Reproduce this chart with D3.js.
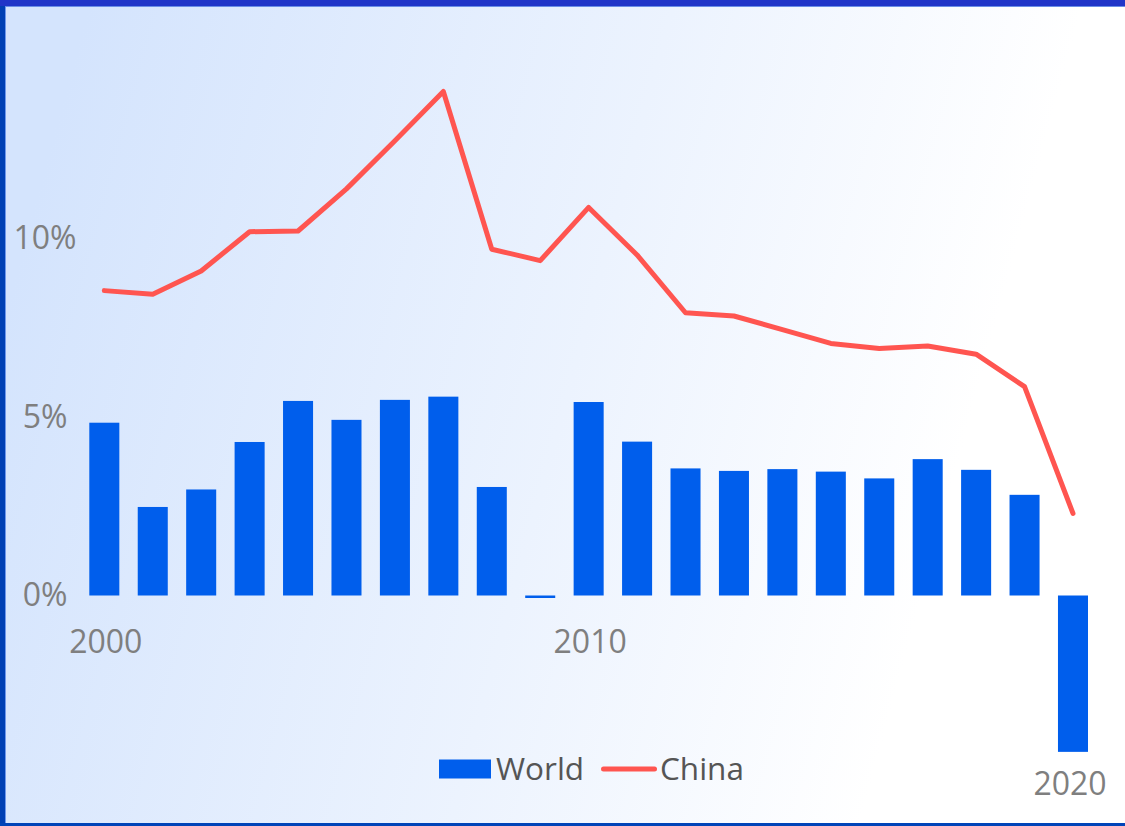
<!DOCTYPE html>
<html>
<head>
<meta charset="utf-8">
<script src="https://cdn.jsdelivr.net/npm/d3@7"></script>
<style>
  html, body { margin: 0; padding: 0; overflow: hidden; }
  svg { display: block; }
</style>
</head>
<body>
<script>
// valeurs (croissance du PIB, %)
const years = ["2000", "2001", "2002", "2003", "2004", "2005", "2006", "2007", "2008", "2009", "2010",
    "2011", "2012", "2013", "2014", "2015", "2016", "2017", "2018", "2019", "2020"];
const world = [4.84, 2.48, 2.97, 4.30, 5.45, 4.92, 5.48, 5.57, 3.04, -0.07, 5.42,
    4.31, 3.56, 3.49, 3.54, 3.47, 3.28, 3.82, 3.52, 2.82, -4.38];
const china = [8.54, 8.44, 9.09, 10.19, 10.21, 11.39, 12.74, 14.12, 9.70, 9.38, 10.87,
    9.54, 7.92, 7.83, 7.45, 7.06, 6.92, 6.99, 6.76, 5.85, 2.30];
const yTicks = [0, 5, 10];
const xTicks = ["2000", "2010", "2020"];
const seriesNames = ["World", "China"];

const W = 1125, H = 826;
const barColor = "#005eec", lineColor = "#ff5550";

const svg = d3.select("body").append("svg")
    .attr("width", W)
    .attr("height", H);

// fond en dégradé
const grad = svg.append("defs").append("linearGradient")
    .attr("id", "bg")
    .attr("x1", 0).attr("y1", 0.4)
    .attr("x2", 1).attr("y2", 0.6);
grad.append("stop").attr("offset", 0).attr("stop-color", "#d4e4fd");
grad.append("stop").attr("offset", 0.5).attr("stop-color", "#ecf3fe");
grad.append("stop").attr("offset", 0.85).attr("stop-color", "#ffffff");

svg.append("rect").attr("width", W).attr("height", H).attr("fill", "url(#bg)");

// cadre
svg.append("rect").attr("x", 0).attr("y", 0).attr("width", 5).attr("height", H).attr("fill", "#0040b4");
svg.append("rect").attr("x", 5).attr("y", 6).attr("width", 1).attr("height", H - 6).attr("fill", "#6f98ec");
svg.append("rect").attr("x", 0).attr("y", 0).attr("width", W).attr("height", 6).attr("fill", "#2035c8");
svg.append("rect").attr("x", 5).attr("y", 6).attr("width", W - 5).attr("height", 1).attr("fill", "#6a8ee6");
svg.append("rect").attr("x", 0).attr("y", H - 3).attr("width", W).attr("height", 3).attr("fill", "#0044b8");

// échelles
const x = d3.scaleBand()
    .domain(years)
    .range([80.1, 1097.2])
    .paddingInner(0.38)
    .paddingOuter(0.19);

const y = d3.scaleLinear()
    .domain([0, 10])
    .range([595.5, 238.5]);

const cx = d => x(d) + x.bandwidth() / 2;

// axe Y
const yAxis = svg.append("g")
    .attr("transform", "translate(45,0)")
    .call(d3.axisLeft(y).tickValues(yTicks).tickSize(0).tickPadding(0).tickFormat(d => d + "%"));
yAxis.select(".domain").remove();
yAxis.selectAll("text")
    .attr("text-anchor", "middle")
    .style("font-family", "'Open Sans', sans-serif")
    .style("font-size", "32px")
    .attr("fill", "#7f7f7f");

// barres
svg.selectAll("rect.bar")
    .data(years)
    .join("rect")
    .attr("class", "bar")
    .attr("x", d => x(d))
    .attr("width", x.bandwidth())
    .attr("y", (d, i) => y(Math.max(0, world[i])))
    .attr("height", (d, i) => Math.abs(y(world[i]) - y(0)))
    .attr("fill", barColor);

// ligne Chine
const line = d3.line()
    .x((d, i) => cx(years[i]))
    .y(d => y(d));

svg.append("path")
    .datum(china)
    .attr("d", line)
    .attr("fill", "none")
    .attr("stroke", lineColor)
    .attr("stroke-width", 5)
    .attr("stroke-linecap", "round")
    .attr("stroke-linejoin", "round");

// étiquettes X (sous la barre quand elle est négative, sans déborder à droite)
svg.selectAll("text.xlab")
    .data(xTicks)
    .join("text")
    .attr("class", "xlab")
    .attr("x", d => Math.min(cx(d) + 1.5, 1070))
    .attr("y", d => {
        const v = world[years.indexOf(d)];
        return v < -1 ? y(v) + 43 : y(0) + 57;
    })
    .attr("text-anchor", "middle")
    .style("font-family", "'Open Sans', sans-serif")
    .style("font-size", "32px")
    .attr("fill", "#7f7f7f")
    .text(d => d);

// légende
const legend = svg.append("g").attr("transform", "translate(439,769)");
legend.append("rect")
    .attr("x", 0).attr("y", -9.5)
    .attr("width", 52).attr("height", 19)
    .attr("fill", barColor);
legend.append("text")
    .attr("x", 57).attr("y", 10.5)
    .style("font-family", "'Open Sans', sans-serif")
    .style("font-size", "31.5px")
    .attr("fill", "#555555")
    .text(seriesNames[0]);
legend.append("line")
    .attr("x1", 164.5).attr("x2", 215.5)
    .attr("y1", 0).attr("y2", 0)
    .attr("stroke", lineColor)
    .attr("stroke-width", 5)
    .attr("stroke-linecap", "round");
legend.append("text")
    .attr("x", 221).attr("y", 10.5)
    .style("font-family", "'Open Sans', sans-serif")
    .style("font-size", "31.5px")
    .attr("fill", "#555555")
    .text(seriesNames[1]);
</script>
</body>
</html>
